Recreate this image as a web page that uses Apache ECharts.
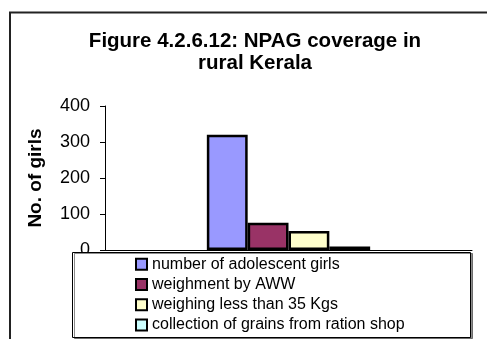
<!DOCTYPE html>
<html>
<head>
<meta charset="utf-8">
<script src="https://cdn.jsdelivr.net/npm/echarts@6/dist/echarts.min.js"></script>
<style>
  html, body { margin: 0; padding: 0; background: #fff; }
  #chart { width: 487px; height: 339px; }
</style>
</head>
<body>
<div id="chart"></div>
<script>
// NPAG coverage figures for rural Kerala
const titleText = 'Figure 4.2.6.12: NPAG coverage in\nrural Kerala';
const axisName = 'No. of girls';
const categories = [''];
const seriesNames = [
  'number of adolescent girls',
  'weighment by AWW',
  'weighing less than 35 Kgs',
  'collection of grains from ration shop'
];
const seriesValues = [[320], [76], [53], [10]];
const seriesColors = ['#9999FF', '#993366', '#FFFFCC', '#CCFFFF'];
const yTicks = { min: 0, max: 400, interval: 100 };

const chart = echarts.init(document.getElementById('chart'), null, { renderer: 'canvas' });

const series = seriesNames.map((name, i) => ({
  name: name,
  type: 'bar',
  data: seriesValues[i],
  barGap: '0%',
  barCategoryGap: '55.5%',
  itemStyle: { color: seriesColors[i], borderColor: '#000', borderWidth: 2.5 },
  emphasis: { disabled: true },
  z: 2
}));

chart.setOption({
  animation: false,
  backgroundColor: '#fff',
  textStyle: { fontFamily: 'Liberation Sans, Arial, sans-serif' },
  title: {
    text: titleText,
    left: 250,
    top: 25,
    textAlign: 'center',
    textStyle: { fontSize: 20.5, fontWeight: 'bold', color: '#000', lineHeight: 22 }
  },
  grid: { left: 105, right: 15, top: 106, bottom: 89, containLabel: false },
  xAxis: {
    type: 'category',
    data: categories,
    axisLine: { lineStyle: { color: '#000', width: 1 } },
    axisTick: { show: false },
    axisLabel: { show: false },
    splitLine: { show: false }
  },
  yAxis: {
    type: 'value',
    min: yTicks.min,
    max: yTicks.max,
    interval: yTicks.interval,
    name: axisName,
    nameLocation: 'middle',
    nameRotate: 90,
    nameGap: 60,
    nameTextStyle: { fontSize: 19, fontWeight: 'bold', color: '#000' },
    axisLine: { show: true, lineStyle: { color: '#000', width: 1 } },
    axisTick: { show: true, length: 5, lineStyle: { color: '#000' } },
    axisLabel: { fontSize: 18, color: '#000', margin: 15 },
    splitLine: { show: false }
  },
  legend: {
    orient: 'vertical',
    left: 135,
    top: 254,
    padding: 0,
    itemGap: 0,
    itemWidth: 11,
    itemHeight: 11,
    icon: 'rect',
    itemStyle: { borderColor: '#000', borderWidth: 2 },
    textStyle: { fontSize: 16, color: '#000', lineHeight: 20.3 },
    selectedMode: false,
    z: 20
  },
  graphic: [
    {
      // outer chart frame (runs off the right and bottom edges)
      type: 'rect',
      shape: { x: 10, y: 12.5, width: 500, height: 400 },
      style: { fill: null, stroke: '#222', lineWidth: 2 },
      silent: true,
      z: 1
    },
    {
      // legend box
      type: 'rect',
      shape: { x: 72.5, y: 252.5, width: 398, height: 85 },
      style: {
        fill: '#fff', stroke: '#000', lineWidth: 1,
        shadowColor: 'rgba(0,0,0,0.45)', shadowOffsetX: 2, shadowOffsetY: 1, shadowBlur: 0
      },
      silent: true,
      z: 10
    }
  ],
  series: series
});
</script>
</body>
</html>
